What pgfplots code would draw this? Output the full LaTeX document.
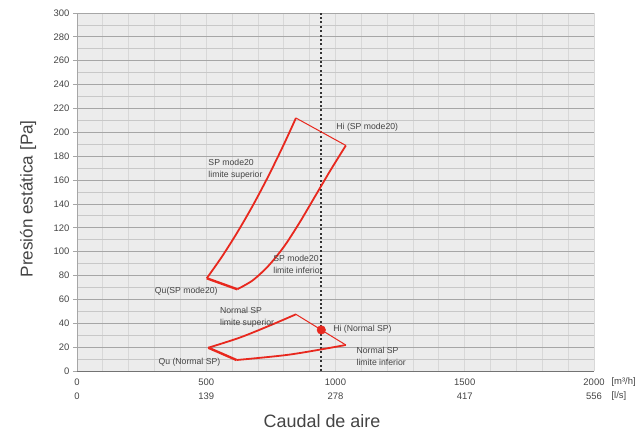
\documentclass[border=0pt]{standalone}
\usepackage{fontspec}
\setmainfont{Liberation Sans}
\usepackage{pgfplots}
\pgfplotsset{compat=1.18}
\usetikzlibrary{calc}

\definecolor{curvered}{HTML}{E8281E}
\definecolor{txt}{HTML}{444444}
\definecolor{bg}{HTML}{ECECEC}
\definecolor{hgrid}{HTML}{A6A6A6}
\definecolor{hminor}{HTML}{C8C8C8}
\definecolor{vgrid}{HTML}{D8D8D8}

\newcommand\annot{\fontsize{8.7}{11.7}\selectfont}
\newcommand\tickf{\fontsize{9.5}{14}\selectfont}
\newcommand\xlabf{\fontsize{18}{21}\selectfont}
\newcommand\ylabf{\fontsize{17.2}{20}\selectfont}

\begin{document}
\begin{tikzpicture}
\begin{axis}[
  scale only axis, width=517bp, height=358bp,
  xmin=0, xmax=2000, ymin=0, ymax=300,
  axis background/.style={fill=bg},
  axis x line*=bottom, axis y line*=left,
  x axis line style={-, draw=black!55, line width=0.8bp},
  y axis line style={-, draw=hgrid, line width=0.8bp},
  xtick={0,500,1000,1500,2000},
  xticklabels={{0\\0},{500\\139},{1000\\278},{1500\\417},{2000\\556}},
  xticklabel style={align=center, font=\tickf, text=txt},
  minor x tick num=4,
  ytick={0,20,...,300},
  minor y tick num=1,
  yticklabel style={font=\tickf, text=txt},
  /pgf/number format/assume math mode=true,
  tick align=outside,
  major tick length=4bp, minor tick length=0pt,
  x tick style={draw=none},
  y tick style={draw=hgrid, line width=0.8bp},
  grid=both,
  major x grid style={draw=vgrid, line width=0.9bp},
  minor x grid style={draw=vgrid, line width=0.9bp},
  major y grid style={draw=hgrid, line width=0.8bp},
  minor y grid style={draw=hminor, line width=0.8bp},
  xlabel={Caudal de aire},
  xlabel style={font=\xlabf, text=txt, at={(axis description cs:0.474,-0.14)}, anchor=center},
  ylabel={Presión estática [Pa]},
  ylabel style={font=\ylabf, text=txt, at={(axis description cs:-0.0948,0.481)}, anchor=center},
  clip=false,
]
\coordinate (o) at (axis cs:0,0);

% operating point line
\addplot[black!80, line width=1.6bp, dash pattern=on 2bp off 2.4bp] coordinates {(945,0) (945,300)};

% SP mode20 envelope
\addplot[curvered, line width=1.8bp, smooth] coordinates {
  (502,77.7) (560,95.6) (620,116.1) (680,138.6) (740,163.2) (800,189.8) (847,212)};
\addplot[curvered, line width=1bp] coordinates {(847,212) (1040,189)};
\addplot[curvered, line width=1.8bp, smooth] coordinates {
  (620,68.5) (680,76) (740,88) (800,104) (860,124) (920,146) (980,168) (1040,189)};
\addplot[curvered, line width=2.4bp] coordinates {(502,77.7) (620,68.5)};

% Normal SP envelope
\addplot[curvered, line width=1.8bp, smooth] coordinates {
  (508,19.5) (630,28) (747,38.2) (847,47.5)};
\addplot[curvered, line width=1bp] coordinates {(847,47.5) (1040,21.8)};
\addplot[curvered, line width=1.8bp, smooth] coordinates {
  (617,9.2) (824,13.8) (1040,21.8)};
\addplot[curvered, line width=2.4bp] coordinates {(508,19.5) (617,9.2)};

\addplot[only marks, mark=*, mark size=4.3bp, curvered] coordinates {(945,34.4)};

% annotations
\node[anchor=west, font=\annot, text=txt] at (axis cs:990,204.5) {Hi (SP mode20)};
\node[anchor=west, align=left, font=\annot, text=txt] at (axis cs:495,169.1) {SP mode20\\limite superior};
\node[anchor=west, align=left, font=\annot, text=txt] at (axis cs:746,89.1) {SP mode20\\limite inferior};
\node[anchor=west, font=\annot, text=txt] at (axis cs:288,67) {Qu(SP mode20)};
\node[anchor=west, align=left, font=\annot, text=txt] at (axis cs:540,45.1) {Normal SP\\limite superior};
\node[anchor=west, font=\annot, text=txt] at (axis cs:978,35.2) {Hi (Normal SP)};
\node[anchor=west, align=left, font=\annot, text=txt] at (axis cs:1068,12.2) {Normal SP\\limite inferior};
\node[anchor=west, font=\annot, text=txt] at (axis cs:302,7.3) {Qu (Normal SP)};

% units
\node[anchor=west, font=\tickf, text=txt, xshift=14bp, yshift=-11bp] at (rel axis cs:1,0) {[m³/h]};
\node[anchor=west, font=\tickf, text=txt, xshift=14bp, yshift=-25bp] at (rel axis cs:1,0) {[l/s]};
\end{axis}
\pgfresetboundingbox
\path[use as bounding box] ($(o)+(-77bp,-66bp)$) rectangle ($(o)+(560bp,371bp)$);
\end{tikzpicture}
\end{document}
